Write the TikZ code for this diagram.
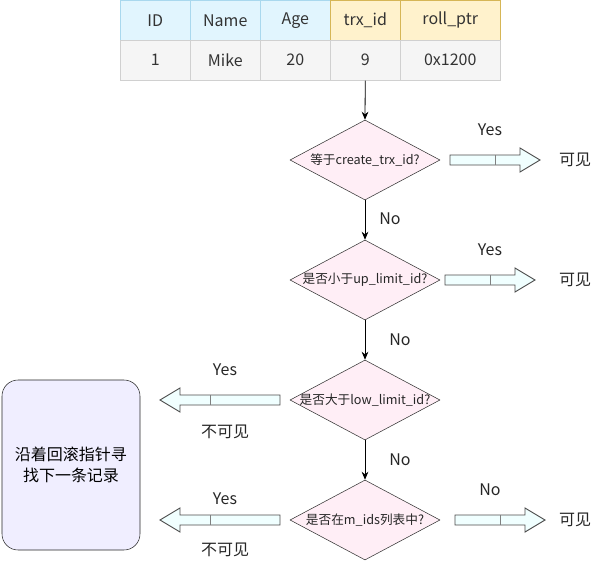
\documentclass[tikz,border=0pt]{standalone}
\usepackage{fontspec}
\setmainfont{Noto Sans CJK SC}
\usetikzlibrary{shapes.geometric,arrows.meta}
\definecolor{hb}{HTML}{E1F5FE}\definecolor{hbd}{HTML}{A9D8EE}
\definecolor{hy}{HTML}{FFF2CC}\definecolor{hyd}{HTML}{D6B656}
\definecolor{dg}{HTML}{F5F5F5}\definecolor{dgd}{HTML}{D0D0D0}
\definecolor{pk}{HTML}{FFEEF6}\definecolor{ar}{HTML}{F0FFFF}
\definecolor{lv}{HTML}{F0EEFF}\definecolor{tx}{HTML}{333333}
\begin{document}
\begin{tikzpicture}[x=0.75pt,y=-0.75pt,
 cell/.style={draw,minimum width=52.5pt,minimum height=30pt,inner sep=0,anchor=north west,font=\fontsize{12}{14}\selectfont,text=tx},
 dia/.style={diamond,draw=black!80,fill=pk,minimum width=112.5pt,minimum height=60pt,aspect=1.875,inner sep=0},
 dtx/.style={font=\fontsize{9.5}{11}\selectfont,text=black!85},
 lbl/.style={font=\fontsize{12}{14}\selectfont,text=black!85},
 blk/.style={draw=black!70,fill=ar,line width=0.7pt},
 flow/.style={-{Stealth[length=6pt,width=5pt]},line width=0.6pt}]
\useasboundingbox (0,0) rectangle (601,561);
% table
\foreach \x/\w/\t/\f/\d/\n in {120/70/ID/hb/hbd/a,190/70/Name/hb/hbd/b,260/70/Age/hb/hbd/c,330/70/trx\_id/hy/hyd/d,400/100/roll\_ptr/hy/hyd/e}{
 \node[cell,fill=\f,draw=\d,minimum width=\w*0.75pt] (h\n) at (\x,0) {\t};}
\foreach \x/\w/\t/\n in {120/70/1/a,190/70/Mike/b,260/70/20/c,330/70/9/d,400/100/0x1200/e}{
 \node[cell,fill=dg,draw=dgd,minimum width=\w*0.75pt] (r\n) at (\x,40) {\t};}
% diamonds
\node[dia] (d1) at (365,160) {}; \node[dtx] at (d1.center) {等于create\_trx\_id?};
\node[dia] (d2) at (365,280) {}; \node[dtx] at (d2.center) {是否小于up\_limit\_id?};
\node[dia] (d3) at (365,400) {}; \node[dtx] at (d3.center) {是否大于low\_limit\_id?};
\node[dia] (d4) at (365,520) {}; \node[dtx] at (d4.center) {是否在m\_ids列表中?};
\draw[flow] (rd.south) -- (d1.north);
\draw[flow] (d1.south) -- (d2.north);
\draw[flow] (d2.south) -- (d3.north);
\draw[flow] (d3.south) -- (d4.north);
% block arrows right
\foreach \xa/\xb/\y in {450/540/160,445/535/280,455/545/520}{
 \draw[blk] (\xa,\y-5) -- (\xb-20,\y-5) -- (\xb-20,\y-12) -- (\xb,\y) -- (\xb-20,\y+12) -- (\xb-20,\y+5) -- (\xa,\y+5) -- cycle;
 \draw[black!50] ({(\xa+\xb)/2},\y-5) -- ({(\xa+\xb)/2},\y+5);}
% block arrows left
\foreach \xa/\xb/\y in {280/160/400,280/160/520}{
 \draw[blk] (\xa,\y-5) -- (\xb+20,\y-5) -- (\xb+20,\y-12) -- (\xb,\y) -- (\xb+20,\y+12) -- (\xb+20,\y+5) -- (\xa,\y+5) -- cycle;
 \draw[black!50] (210,\y-5) -- (210,\y+5);}
% labels
\node[lbl] (y1) at (490,130) {Yes}; \node[lbl] (k1) at (575,160) {可见};
\node[lbl] (y2) at (490,250) {Yes}; \node[lbl] (k2) at (575,280) {可见};
\node[lbl] (n1) at (390,219) {No};
\node[lbl] (n2) at (400,340) {No};
\node[lbl] (n3) at (400,460) {No};
\node[lbl] (y3) at (225,370) {Yes}; \node[lbl] (b1) at (225,432) {不可见};
\node[lbl] (y4) at (225,499) {Yes}; \node[lbl] (b2) at (225,550) {不可见};
\node[lbl] (n4) at (490,490) {No}; \node[lbl] (k3) at (575,520) {可见};
% box
\node[draw=black!85,fill=lv,rounded corners=12pt,minimum width=103.5pt,minimum height=127.5pt,align=center,font=\fontsize{12}{16}\selectfont,inner sep=0] (box) at (71,465) {沿着回滚指针寻\\找下一条记录};
\end{tikzpicture}
\end{document}
